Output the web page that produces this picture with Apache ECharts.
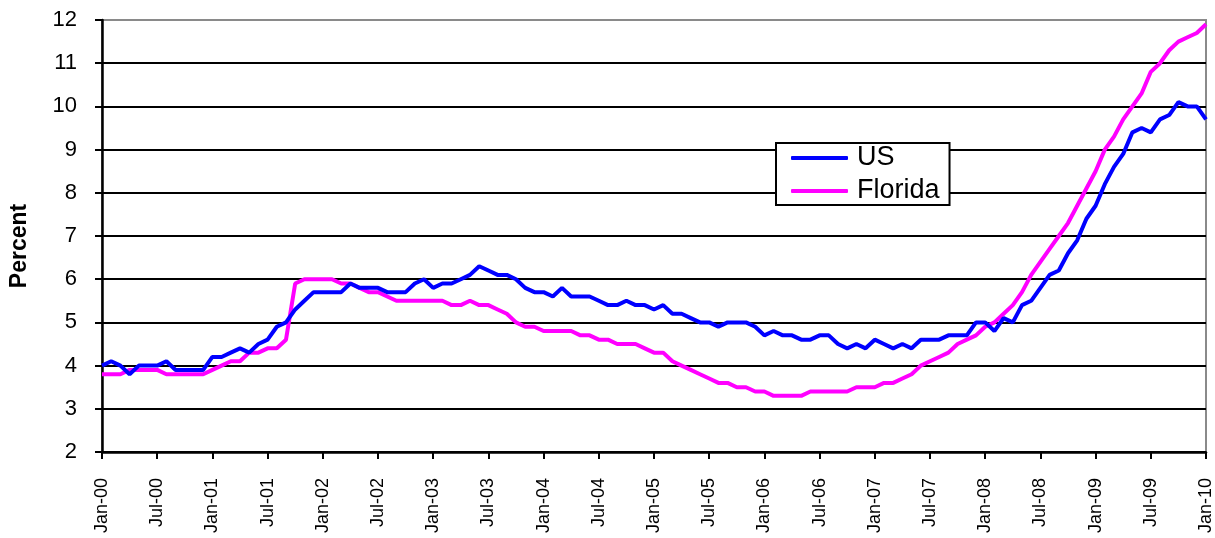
<!DOCTYPE html>
<html><head><meta charset="utf-8">
<script src="https://cdn.jsdelivr.net/npm/echarts@6/dist/echarts.min.js"></script>
<style>html,body{margin:0;padding:0;background:#fff}#c{width:1215px;height:538px}</style>
</head><body><div id="c"></div>
<script>
const monthNames = ['Jan','Feb','Mar','Apr','May','Jun','Jul','Aug','Sep','Oct','Nov','Dec'];
const years = ['00','01','02','03','04','05','06','07','08','09','10'];
const categories = [];
years.forEach(y => monthNames.forEach(m => { if (categories.length < 121) categories.push(m + '-' + y); }));

const usValues = [
  4.0,4.1,4.0,3.8,4.0,4.0,4.0,4.1,3.9,3.9,3.9,3.9,
  4.2,4.2,4.3,4.4,4.3,4.5,4.6,4.9,5.0,5.3,5.5,5.7,
  5.7,5.7,5.7,5.9,5.8,5.8,5.8,5.7,5.7,5.7,5.9,6.0,
  5.8,5.9,5.9,6.0,6.1,6.3,6.2,6.1,6.1,6.0,5.8,5.7,
  5.7,5.6,5.8,5.6,5.6,5.6,5.5,5.4,5.4,5.5,5.4,5.4,
  5.3,5.4,5.2,5.2,5.1,5.0,5.0,4.9,5.0,5.0,5.0,4.9,
  4.7,4.8,4.7,4.7,4.6,4.6,4.7,4.7,4.5,4.4,4.5,4.4,
  4.6,4.5,4.4,4.5,4.4,4.6,4.6,4.6,4.7,4.7,4.7,5.0,
  5.0,4.8,5.1,5.0,5.4,5.5,5.8,6.1,6.2,6.6,6.9,7.4,
  7.7,8.2,8.6,8.9,9.4,9.5,9.4,9.7,9.8,10.1,10.0,10.0,
  9.7
];
const floridaValues = [
  3.8,3.8,3.8,3.9,3.9,3.9,3.9,3.8,3.8,3.8,3.8,3.8,
  3.9,4.0,4.1,4.1,4.3,4.3,4.4,4.4,4.6,5.9,6.0,6.0,
  6.0,6.0,5.9,5.9,5.8,5.7,5.7,5.6,5.5,5.5,5.5,5.5,
  5.5,5.5,5.4,5.4,5.5,5.4,5.4,5.3,5.2,5.0,4.9,4.9,
  4.8,4.8,4.8,4.8,4.7,4.7,4.6,4.6,4.5,4.5,4.5,4.4,
  4.3,4.3,4.1,4.0,3.9,3.8,3.7,3.6,3.6,3.5,3.5,3.4,
  3.4,3.3,3.3,3.3,3.3,3.4,3.4,3.4,3.4,3.4,3.5,3.5,
  3.5,3.6,3.6,3.7,3.8,4.0,4.1,4.2,4.3,4.5,4.6,4.7,
  4.9,5.0,5.2,5.4,5.7,6.1,6.4,6.7,7.0,7.3,7.7,8.1,
  8.5,9.0,9.3,9.7,10.0,10.3,10.8,11.0,11.3,11.5,11.6,11.7,
  11.9
];
const yTicks = [2,3,4,5,6,7,8,9,10,11,12];
const seriesNames = ['US','Florida'];

const FONT = 'Liberation Sans, Arial, sans-serif';
const gridColors = yTicks.map((t,i) => i === yTicks.length - 1 ? '#8a8a8a' : '#000');

const chart = echarts.init(document.getElementById('c'), null, {renderer:'canvas'});
chart.setOption({
  animation: false,
  backgroundColor: '#fff',
  grid: {left: 98, right: 9, top: 20, bottom: 86, show: true, borderColor: '#8a8a8a', borderWidth: 2, backgroundColor: 'transparent'},
  legend: {
    data: seriesNames,
    orient: 'vertical',
    left: 776, top: 143,
    itemWidth: 57, itemHeight: 4, itemGap: 5,
    icon: 'roundRect',
    padding: [1, 10, 0, 15],
    borderColor: '#000', borderWidth: 2,
    backgroundColor: '#fff',
    textStyle: {fontFamily: FONT, fontSize: 27, lineHeight: 28, color: '#000', padding: [0, 0, 0, 4]}
  },
  xAxis: {
    type: 'category',
    data: categories,
    boundaryGap: false,
    axisLine: {lineStyle: {color: '#000', width: 2.5}},
    axisTick: {show: true, interval: 5, length: 7, lineStyle: {color: '#000', width: 2}},
    axisLabel: {interval: 5, rotate: 90, fontFamily: FONT, fontSize: 18, color: '#000', margin: 26, padding: [12, 0, 0, 0]},
    splitLine: {show: false}
  },
  yAxis: {
    type: 'value',
    min: 2, max: 12, interval: 1,
    name: 'Percent',
    nameLocation: 'middle',
    nameRotate: 90,
    nameGap: 71,
    nameTextStyle: {fontFamily: FONT, fontSize: 23, fontWeight: 'bold', color: '#000', padding: [0, 20, 0, 0]},
    axisLine: {show: true, lineStyle: {color: '#000', width: 2.5}},
    axisTick: {show: true, length: 7, lineStyle: {color: '#000', width: 2}},
    axisLabel: {fontFamily: FONT, fontSize: 22, color: '#000', margin: 25},
    splitLine: {show: true, lineStyle: {color: gridColors, width: 2}}
  },
  series: [
    {name: seriesNames[0], type: 'line', data: usValues, showSymbol: false, symbol: 'none',
     lineStyle: {color: '#0000ff', width: 4}, itemStyle: {color: '#0000ff'}, z: 3},
    {name: seriesNames[1], type: 'line', data: floridaValues, showSymbol: false, symbol: 'none',
     lineStyle: {color: '#ff00ff', width: 4}, itemStyle: {color: '#ff00ff'}, z: 2}
  ]
});
</script></body></html>
